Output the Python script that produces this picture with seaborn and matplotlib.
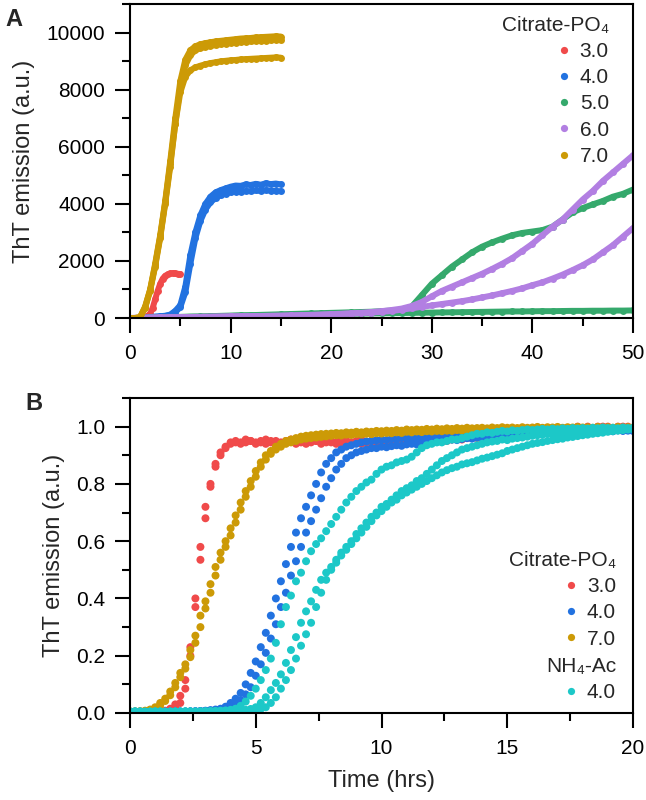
"""ThT aggregation kinetics: raw emission by buffer pH (A) and normalised curves (B)."""
import matplotlib
matplotlib.use("Agg")
import matplotlib.pyplot as plt
import numpy as np
import pandas as pd
import seaborn as sns
from matplotlib.lines import Line2D
from matplotlib.ticker import FormatStrFormatter, MultipleLocator

# ---------------- panel A: raw ThT emission (a.u.) ----------------
T_A_RED = np.arange(0, 5.01, 0.25)      # pH 3.0 run stops at 5 h
T_A_SHORT = np.arange(0, 15.01, 0.5)    # pH 4.0 / 7.0 runs stop at 15 h
T_A_LONG = np.arange(0, 50.01, 1.0)     # pH 5.0 / 6.0 runs go to 50 h

A_RED = [0, 0, 0, 0, 10, 20, 40, 80, 150, 350,
         650, 950, 1200, 1380, 1480, 1530, 1560, 1570, 1560, 1550,
         1540]
A_BLUE_1 = [0, 0, 0, 10, 30, 50, 60, 80, 120, 250,
            450, 1100, 2200, 3000, 3600, 4000, 4250, 4400, 4480, 4540,
            4600, 4640, 4630, 4680, 4660, 4700, 4670, 4720, 4690, 4710,
            4680]
A_BLUE_2 = [0, 0, 0, 10, 20, 40, 50, 70, 100, 200,
            380, 900, 1900, 2800, 3400, 3800, 4050, 4200, 4300, 4360,
            4400, 4430, 4420, 4450, 4440, 4470, 4450, 4480, 4460, 4450,
            4440]
A_YELLOW_1 = [0, 0, 30, 400, 1000, 1900, 2900, 4100, 5500, 7000,
              8300, 9050, 9380, 9520, 9590, 9630, 9660, 9690, 9710, 9730,
              9750, 9770, 9790, 9800, 9810, 9830, 9840, 9850, 9860, 9870,
              9860]
A_YELLOW_2 = [0, 0, 20, 350, 950, 1800, 2800, 4000, 5300, 6800,
              8100, 8850, 9200, 9380, 9450, 9500, 9530, 9560, 9590, 9610,
              9630, 9650, 9660, 9680, 9690, 9700, 9710, 9720, 9730, 9740,
              9730]
A_YELLOW_3 = [0, 0, 20, 380, 980, 1850, 2850, 4050, 5400, 6800,
              7900, 8450, 8680, 8780, 8840, 8890, 8930, 8960, 8990, 9010,
              9030, 9040, 9060, 9070, 9080, 9090, 9100, 9110, 9120, 9130,
              9120]
A_GREEN_1 = [0, 0, 10, 20, 30, 40, 50, 55, 65, 75,
             85, 95, 100, 110, 120, 130, 140, 150, 160, 170,
             180, 190, 200, 210, 220, 240, 260, 290, 400, 800,
             1200, 1500, 1800, 2050, 2300, 2500, 2650, 2780, 2900, 2980,
             3030, 3080, 3200, 3450, 3700, 3850, 3980, 4100, 4250, 4350,
             4500]
A_GREEN_2 = [0, 0, 10, 15, 20, 30, 40, 45, 55, 60,
             70, 80, 85, 95, 100, 110, 115, 120, 130, 135,
             140, 145, 150, 155, 160, 165, 170, 175, 180, 185,
             190, 195, 200, 205, 210, 215, 220, 225, 230, 230,
             235, 240, 240, 245, 250, 250, 255, 255, 260, 260,
             265]
A_PURPLE_1 = [0, 10, 15, 20, 25, 30, 35, 40, 45, 50,
              55, 60, 65, 70, 75, 80, 90, 100, 110, 120,
              135, 150, 165, 185, 210, 240, 280, 330, 420, 560,
              760, 950, 1100, 1250, 1400, 1550, 1720, 1900, 2100, 2350,
              2600, 2900, 3200, 3450, 3800, 4150, 4450, 4800, 5100, 5400,
              5700]
A_PURPLE_2 = [0, 10, 15, 20, 25, 30, 35, 40, 45, 50,
              55, 60, 65, 70, 75, 80, 88, 96, 105, 115,
              128, 140, 155, 170, 190, 215, 245, 290, 340, 390,
              440, 490, 540, 590, 650, 720, 790, 870, 950, 1040,
              1150, 1250, 1380, 1520, 1680, 1850, 2050, 2300, 2550, 2850,
              3150]

# ---------------- panel B: normalised ThT emission ----------------
T_B = np.round(np.arange(0, 20.01, 0.2), 1)

B_RED_1 = [0.005, 0.004, 0.005, 0.004, 0.005, 0.005, 0.006, 0.008, 0.015, 0.03,
           0.06, 0.115, 0.23, 0.40, 0.58, 0.72, 0.80, 0.87, 0.91, 0.93,
           0.945, 0.95, 0.945, 0.955, 0.95, 0.945, 0.95, 0.955, 0.945, 0.95,
           0.945, 0.95, 0.955, 0.945, 0.95, 0.945, 0.955, 0.95, 0.945, 0.95,
           0.95, 0.945, 0.955, 0.95, 0.945, 0.95, 0.955, 0.945, 0.95, 0.95,
           0.95, 0.945, 0.95, 0.955, 0.95, 0.945, 0.95, 0.955, 0.95, 0.945,
           0.955, 0.95, 0.96, 0.955, 0.96, 0.965, 0.96, 0.965, 0.97, 0.965,
           0.97, 0.975, 0.97, 0.975, 0.98, 0.975, 0.98, 0.985, 0.98, 0.985,
           0.985, 0.99, 0.985, 0.99, 0.995, 0.99, 0.995, 0.99, 0.995, 1.0,
           0.995, 1.0, 0.995, 1.0, 0.995, 1.0, 0.99, 1.0, 0.995, 1.0,
           0.995]
B_RED_2 = [0.004, 0.005, 0.004, 0.005, 0.004, 0.005, 0.005, 0.006, 0.01, 0.02,
           0.035, 0.085, 0.20, 0.37, 0.535, 0.68, 0.79, 0.86, 0.90, 0.925,
           0.94, 0.945, 0.94, 0.945, 0.95, 0.94, 0.945, 0.94, 0.95, 0.945,
           0.94, 0.945, 0.95, 0.94, 0.945, 0.94, 0.945, 0.95, 0.94, 0.945,
           0.945, 0.94, 0.945, 0.95, 0.94, 0.945, 0.94, 0.945, 0.95, 0.945,
           0.94, 0.945, 0.95, 0.945, 0.94, 0.945, 0.95, 0.945, 0.94, 0.95,
           0.945, 0.95, 0.955, 0.95, 0.955, 0.96, 0.955, 0.96, 0.965, 0.96,
           0.965, 0.97, 0.965, 0.97, 0.975, 0.97, 0.975, 0.98, 0.975, 0.98,
           0.98, 0.985, 0.98, 0.985, 0.99, 0.985, 0.99, 0.985, 0.99, 0.995,
           0.99, 0.995, 0.99, 0.995, 1.0, 0.995, 0.99, 0.995, 1.0, 0.995,
           0.99]
B_BLUE_1 = [0.004, 0.005, 0.004, 0.005, 0.004, 0.005, 0.005, 0.004, 0.005, 0.005,
            0.005, 0.005, 0.006, 0.006, 0.007, 0.008, 0.01, 0.012, 0.015, 0.022,
            0.035, 0.05, 0.07, 0.10, 0.14, 0.18, 0.23, 0.28, 0.34, 0.40,
            0.46, 0.52, 0.58, 0.63, 0.68, 0.72, 0.76, 0.80, 0.84, 0.87,
            0.89, 0.91, 0.92, 0.93, 0.935, 0.94, 0.945, 0.948, 0.95, 0.952,
            0.955, 0.953, 0.957, 0.956, 0.96, 0.958, 0.962, 0.96, 0.964, 0.963,
            0.966, 0.965, 0.968, 0.967, 0.97, 0.969, 0.972, 0.971, 0.974, 0.973,
            0.975, 0.974, 0.977, 0.976, 0.978, 0.98, 0.979, 0.981, 0.98, 0.982,
            0.983, 0.981, 0.984, 0.983, 0.985, 0.984, 0.986, 0.985, 0.987, 0.986,
            0.988, 0.987, 0.989, 0.986, 0.99, 0.988, 0.985, 0.99, 0.987, 0.99,
            0.988]
B_BLUE_2 = [0.005, 0.004, 0.005, 0.004, 0.005, 0.004, 0.005, 0.005, 0.004, 0.005,
            0.005, 0.005, 0.005, 0.006, 0.006, 0.007, 0.008, 0.009, 0.011, 0.015,
            0.02, 0.03, 0.045, 0.065, 0.09, 0.13, 0.17, 0.21, 0.26, 0.31,
            0.37, 0.42, 0.48, 0.53, 0.58, 0.63, 0.67, 0.71, 0.75, 0.79,
            0.82, 0.85, 0.87, 0.89, 0.90, 0.91, 0.915, 0.92, 0.925, 0.925,
            0.93, 0.928, 0.932, 0.935, 0.933, 0.938, 0.94, 0.938, 0.942, 0.944,
            0.945, 0.948, 0.95, 0.952, 0.955, 0.953, 0.957, 0.96, 0.958, 0.962,
            0.96, 0.963, 0.965, 0.967, 0.968, 0.97, 0.968, 0.972, 0.974, 0.973,
            0.975, 0.977, 0.976, 0.978, 0.98, 0.979, 0.981, 0.98, 0.982, 0.981,
            0.983, 0.982, 0.984, 0.985, 0.983, 0.986, 0.984, 0.987, 0.985, 0.986,
            0.985]
B_YELLOW_1 = [0.005, 0.005, 0.006, 0.008, 0.012, 0.02, 0.035, 0.05, 0.075, 0.105,
              0.14, 0.17, 0.22, 0.27, 0.34, 0.39, 0.45, 0.51, 0.56, 0.60,
              0.645, 0.69, 0.735, 0.775, 0.81, 0.845, 0.875, 0.90, 0.915, 0.93,
              0.94, 0.95, 0.955, 0.96, 0.965, 0.968, 0.97, 0.972, 0.974, 0.975,
              0.976, 0.978, 0.977, 0.98, 0.979, 0.982, 0.98, 0.983, 0.982, 0.985,
              0.984, 0.986, 0.985, 0.988, 0.986, 0.99, 0.988, 0.99, 0.989, 0.992,
              0.99, 0.993, 0.991, 0.994, 0.992, 0.995, 0.993, 0.996, 0.994, 0.995,
              0.996, 0.994, 0.997, 0.995, 0.998, 0.996, 0.997, 0.995, 0.998, 0.996,
              0.997, 0.999, 0.996, 0.998, 0.997, 0.999, 0.996, 0.998, 0.997, 0.999,
              0.997, 0.998, 0.996, 0.999, 0.997, 0.998, 0.996, 0.999, 0.997, 0.998,
              0.997]
B_YELLOW_2 = [0.005, 0.005, 0.005, 0.006, 0.009, 0.015, 0.027, 0.042, 0.062, 0.09,
              0.125, 0.155, 0.195, 0.245, 0.30, 0.365, 0.42, 0.48, 0.535, 0.58,
              0.62, 0.665, 0.71, 0.755, 0.79, 0.825, 0.86, 0.885, 0.905, 0.92,
              0.93, 0.94, 0.945, 0.95, 0.955, 0.958, 0.96, 0.962, 0.964, 0.966,
              0.968, 0.97, 0.969, 0.972, 0.971, 0.974, 0.973, 0.975, 0.974, 0.977,
              0.976, 0.978, 0.977, 0.98, 0.978, 0.982, 0.98, 0.983, 0.981, 0.984,
              0.983, 0.985, 0.984, 0.986, 0.985, 0.988, 0.986, 0.989, 0.987, 0.99,
              0.988, 0.99, 0.989, 0.991, 0.99, 0.992, 0.99, 0.993, 0.991, 0.992,
              0.993, 0.991, 0.994, 0.992, 0.993, 0.995, 0.992, 0.994, 0.993, 0.995,
              0.994, 0.992, 0.995, 0.993, 0.994, 0.996, 0.993, 0.995, 0.994, 0.996,
              0.995]
B_CYAN_FAST = [0.005, 0.006, 0.005, 0.004, 0.005, 0.006, 0.005, 0.004, 0.005, 0.005,
               0.005, 0.006, 0.005, 0.005, 0.006, 0.006, 0.007, 0.007, 0.008, 0.009,
               0.011, 0.015, 0.025, 0.04, 0.06, 0.085, 0.115, 0.15, 0.19, 0.245,
               0.31, 0.37, 0.41, 0.46, 0.49, 0.53, 0.565, 0.59, 0.61, 0.635,
               0.66, 0.685, 0.71, 0.735, 0.755, 0.775, 0.79, 0.805, 0.815, 0.835,
               0.85, 0.86, 0.865, 0.875, 0.88, 0.885, 0.895, 0.91, 0.925, 0.935,
               0.94, 0.945, 0.945, 0.95, 0.955, 0.955, 0.96, 0.965, 0.97, 0.975,
               0.975, 0.98, 0.978, 0.982, 0.985, 0.983, 0.987, 0.985, 0.988, 0.99,
               0.988, 0.99, 0.992, 0.99, 0.993, 0.991, 0.994, 0.992, 0.995, 0.993,
               0.995, 0.993, 0.996, 0.994, 0.997, 0.995, 0.996, 0.994, 0.997, 0.995,
               0.996]
B_CYAN_SLOW_1 = [0.005, 0.004, 0.005, 0.005, 0.004, 0.005, 0.005, 0.004, 0.005, 0.005,
                 0.004, 0.005, 0.005, 0.004, 0.005, 0.005, 0.005, 0.006, 0.006, 0.007,
                 0.007, 0.008, 0.009, 0.011, 0.014, 0.02, 0.035, 0.055, 0.08, 0.105,
                 0.135, 0.175, 0.22, 0.265, 0.315, 0.355, 0.39, 0.43, 0.465, 0.49,
                 0.51, 0.535, 0.56, 0.58, 0.60, 0.625, 0.645, 0.665, 0.685, 0.70,
                 0.72, 0.73, 0.745, 0.76, 0.775, 0.785, 0.795, 0.81, 0.82, 0.835,
                 0.85, 0.865, 0.88, 0.89, 0.90, 0.91, 0.92, 0.925, 0.93, 0.935,
                 0.94, 0.945, 0.948, 0.95, 0.955, 0.953, 0.958, 0.96, 0.962, 0.965,
                 0.968, 0.97, 0.972, 0.975, 0.974, 0.978, 0.98, 0.979, 0.982, 0.984,
                 0.985, 0.983, 0.987, 0.986, 0.988, 0.99, 0.989, 0.991, 0.99, 0.992,
                 0.993]
B_CYAN_SLOW_2 = [0.004, 0.005, 0.005, 0.004, 0.005, 0.004, 0.005, 0.005, 0.004, 0.005,
                 0.005, 0.004, 0.005, 0.005, 0.004, 0.005, 0.005, 0.005, 0.006, 0.006,
                 0.006, 0.007, 0.007, 0.008, 0.009, 0.011, 0.014, 0.02, 0.035, 0.055,
                 0.085, 0.115, 0.15, 0.19, 0.235, 0.275, 0.315, 0.37, 0.42, 0.465,
                 0.50, 0.525, 0.55, 0.57, 0.59, 0.61, 0.63, 0.65, 0.67, 0.69,
                 0.705, 0.72, 0.735, 0.745, 0.76, 0.77, 0.78, 0.79, 0.80, 0.81,
                 0.82, 0.83, 0.84, 0.848, 0.855, 0.86, 0.868, 0.872, 0.876, 0.882,
                 0.888, 0.892, 0.897, 0.902, 0.907, 0.915, 0.92, 0.925, 0.93, 0.935,
                 0.94, 0.943, 0.946, 0.95, 0.953, 0.956, 0.958, 0.962, 0.964, 0.967,
                 0.97, 0.972, 0.975, 0.977, 0.979, 0.982, 0.984, 0.986, 0.988, 0.99,
                 0.991]

LEGEND_A = ["3.0", "4.0", "5.0", "6.0", "7.0"]
LEGEND_B_CP = ["3.0", "4.0", "7.0"]
LEGEND_B_NH = ["4.0"]

RED, BLUE, GREEN = "#F04A4A", "#2272E0", "#35A96C"
PURPLE, GOLD, CYAN = "#B27FE2", "#CC9A06", "#1CC8C8"


def frame(t, v, cond, rep):
    return pd.DataFrame({"time": t, "tht": v, "cond": cond, "rep": rep})


sns.set_style("ticks")
plt.rcParams["font.family"] = ["Liberation Sans", "DejaVu Sans"]
plt.rcParams["axes.linewidth"] = 1.5

fig = plt.figure(figsize=(6.46, 8.0), dpi=100)
ax_a = fig.add_axes([130 / 646, 1 - 318 / 800, 503 / 646, 314 / 800])
ax_b = fig.add_axes([130 / 646, 1 - 713 / 800, 503 / 646, 315 / 800])

# ---- A ----
df_a = pd.concat([
    frame(T_A_RED, A_RED, "3.0", 1),
    frame(T_A_SHORT, A_BLUE_1, "4.0", 1),
    frame(T_A_SHORT, A_BLUE_2, "4.0", 2),
    frame(T_A_LONG, A_GREEN_1, "5.0", 1),
    frame(T_A_LONG, A_GREEN_2, "5.0", 2),
    frame(T_A_LONG, A_PURPLE_1, "6.0", 1),
    frame(T_A_LONG, A_PURPLE_2, "6.0", 2),
    frame(T_A_SHORT, A_YELLOW_1, "7.0", 1),
    frame(T_A_SHORT, A_YELLOW_2, "7.0", 2),
    frame(T_A_SHORT, A_YELLOW_3, "7.0", 3),
], ignore_index=True)
pal_a = dict(zip(LEGEND_A, [RED, BLUE, GREEN, PURPLE, GOLD]))
sns.lineplot(data=df_a, x="time", y="tht", hue="cond", units="rep",
             estimator=None, hue_order=LEGEND_A, palette=pal_a, legend=False,
             lw=4.3, marker="o", markersize=5, markeredgewidth=0,
             solid_capstyle="round", ax=ax_a)
ax_a.set_xlim(0, 50)
ax_a.set_ylim(0, 11000)
ax_a.xaxis.set_major_locator(MultipleLocator(10))
ax_a.xaxis.set_minor_locator(MultipleLocator(5))
ax_a.yaxis.set_major_locator(MultipleLocator(2000))
ax_a.yaxis.set_minor_locator(MultipleLocator(1000))
ax_a.set_xlabel("")

# ---- B ----
df_b = pd.concat([
    frame(T_B, B_RED_1, "cp3", 1),
    frame(T_B, B_RED_2, "cp3", 2),
    frame(T_B, B_BLUE_1, "cp4", 1),
    frame(T_B, B_BLUE_2, "cp4", 2),
    frame(T_B, B_YELLOW_1, "cp7", 1),
    frame(T_B, B_YELLOW_2, "cp7", 2),
    frame(T_B, B_CYAN_FAST, "nh4", 1),
    frame(T_B, B_CYAN_SLOW_1, "nh4", 2),
    frame(T_B, B_CYAN_SLOW_2, "nh4", 3),
], ignore_index=True)
pal_b = {"cp3": RED, "cp4": BLUE, "cp7": GOLD, "nh4": CYAN}
sns.scatterplot(data=df_b, x="time", y="tht", hue="cond", palette=pal_b,
                s=33, linewidth=0, legend=False, ax=ax_b)
ax_b.set_xlim(0, 20)
ax_b.set_ylim(0, 1.1)
ax_b.xaxis.set_major_locator(MultipleLocator(5))
ax_b.xaxis.set_minor_locator(MultipleLocator(2.5))
ax_b.yaxis.set_major_locator(MultipleLocator(0.2))
ax_b.yaxis.set_minor_locator(MultipleLocator(0.1))
ax_b.yaxis.set_major_formatter(FormatStrFormatter("%.1f"))
ax_b.set_xlabel("Time (hrs)", fontsize=17, labelpad=8)

for ax in (ax_a, ax_b):
    ax.set_ylabel("ThT emission (a.u.)", fontsize=17, labelpad=8)
    ax.tick_params(which="major", length=11, width=1.5, labelsize=15,
                   color="black", labelcolor="black")
    ax.tick_params(axis="y", which="major", pad=7)
    ax.tick_params(axis="x", which="major", pad=8)
    ax.tick_params(which="minor", length=5.5, width=1.5, color="black")
    for sp in ax.spines.values():
        sp.set_color("black")
        sp.set_linewidth(1.5)


def dots(colors):
    return [Line2D([], [], ls="", marker="o", markersize=5.2,
                   markeredgewidth=0, color=c) for c in colors]


leg_kw = dict(frameon=False, alignment="right", handlelength=0.5,
              handletextpad=0.5, labelspacing=0.35, borderpad=0,
              borderaxespad=0, fontsize=15, title_fontsize=15)

ax_a.legend(dots([RED, BLUE, GREEN, PURPLE, GOLD]), LEGEND_A,
            title="Citrate-PO₄", loc="upper right",
            bbox_to_anchor=(0.952, 0.963), **leg_kw)

leg_cp = ax_b.legend(dots([RED, BLUE, GOLD]), LEGEND_B_CP,
                     title="Citrate-PO₄", loc="upper right",
                     bbox_to_anchor=(0.966, 0.515), **leg_kw)
ax_b.add_artist(leg_cp)
ax_b.legend(dots([CYAN]), LEGEND_B_NH, title="NH₄-Ac", loc="lower right",
            bbox_to_anchor=(0.966, 0.034), **leg_kw)

fig.text(14 / 646, 1 - 19 / 800, "A", fontsize=17, fontweight="bold",
         ha="center", va="center")
fig.text(34 / 646, 1 - 404 / 800, "B", fontsize=17, fontweight="bold",
         ha="center", va="center")

fig.savefig("out.png", dpi=100)
